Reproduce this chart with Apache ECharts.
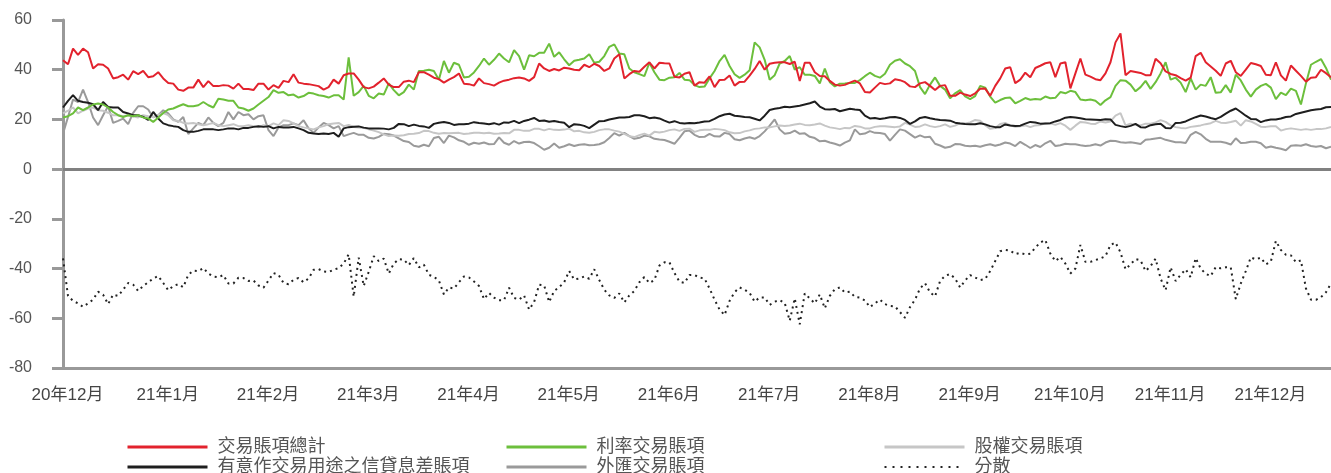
<!DOCTYPE html>
<html><head><meta charset="utf-8">
<script src="https://cdn.jsdelivr.net/npm/echarts@6/dist/echarts.min.js"></script>
<style>html,body{margin:0;padding:0;background:#fff}#c{width:1331px;height:473px}</style>
</head><body><div id="c"></div>
<script>
const monthLabels = ['20年12月','21年1月','21年2月','21年3月','21年4月','21年5月','21年6月','21年7月','21年8月','21年9月','21年10月','21年11月','21年12月'];

const seriesNames = ['交易賬項總計','有意作交易用途之信貸息差賬項','利率交易賬項','外匯交易賬項','股權交易賬項','分散'];

const total = [43.8,42.2,48.5,46,48.5,47,40.5,42.2,42,40.5,36.5,37,38,36,39.4,38.2,39.5,37,37.4,39,36.5,34.7,34.4,32,31.5,32.8,32.8,36,33,35.4,33.4,33.4,33.8,33.6,32.4,34.4,32.2,32.2,31.8,34.4,34.4,32,33.8,32.7,35.5,35,38.2,34.8,34.4,34.2,33.8,33.4,32,33,36,34.4,37.8,
38.5,38.5,36,33,32.5,33.2,34.8,36.5,34,33,33,35.2,35.6,35,39,39,38,36.8,36.2,34.8,36,37,38.5,34.4,34.2,33.6,36.5,34.6,34.2,33.6,34.8,35.6,36,36.6,36.9,36.5,35.5,37,42.5,40.5,39.5,40.3,39.7,40.8,40.5,40,39.8,42,41,42.4,41.5,39.5,40.5,44.5,46.2,36.5,38.2,39.5,39.2,41.2,43,40.5,42.8,42.6,42.5,37.2,36.9,
38.4,39,33.6,35,34.8,37.3,33,35.9,36,37.7,33.6,35.1,35.2,37.6,40.3,43.5,40,42.4,42.8,43,43,42.3,43.2,35.5,42.8,42.8,39,37.5,37.4,35.5,34,33.6,33.9,34.8,35.6,34.5,31,30.8,32.8,34.7,34.2,34.5,36.2,35.8,35,33.3,33,34.5,35,33.5,31.8,33.5,33.8,29.5,29.5,30.8,30,29.4,30.5,32.3,32.4,29.5,33.5,36.5,40.5,
41,34.6,36,38.8,37,40.7,41.6,42.6,43,37,42.5,43,32.5,38.5,44.5,38,37.2,36.2,35.8,38.5,43,51,54.6,37.8,39.5,39.1,38.7,37.8,37.8,44.4,42.6,39.3,38.3,37.8,36.6,35.6,36.8,45.5,46.8,43,41.3,39.6,37.5,42.5,43.6,39,37.5,40,42.7,42.2,41.5,38,37.8,43,37.7,35.6,41.7,39.6,37.5,35.2,36.8,37,40,38.6,37];

const interestRate = [20.8,21.3,22.4,24.8,23.7,24.8,26,26.4,26,24.8,23,21.7,21,21.7,21.3,21.7,20.8,20.4,19,20.8,22.6,24,24.4,25.3,26.1,25.3,25.3,25.7,27,25.7,24.8,28.3,28,27.5,27.5,24.8,24.4,23.5,24.4,26,27.5,29,31.8,30.7,31,29.7,30,28.8,29.4,30.7,30.4,29.7,29.4,28.8,29.7,29.7,28,
45,29.5,31,33.5,29.5,28.5,30.4,30,34.5,31.8,29.7,31,34,32,39.5,39.6,40,39.5,36,43.5,38.8,42.8,42,36.9,37.2,38.9,41.5,44.5,42,44,46.5,44.5,43,47.9,45.5,40,45.8,45.4,46.8,46.8,50.5,45.2,47,44.2,41.8,43.6,44,44.5,46.2,42.8,43.2,45.5,49.2,50.2,46.5,46.2,40.5,39,38.2,37.4,42.8,39,36,35.8,36.8,37,38.7,
36,35.8,33.8,33,33.2,36.5,39.5,43.5,46,41.5,38.2,36.7,38,39.8,51,49,44,36,37.8,42.5,43.5,45.5,40,41,38,38,37.5,34.5,40.5,35,33.3,34.4,34.5,34.7,34.7,35.8,37.4,38.8,37.5,36.8,38.4,42,43.6,44.2,42.5,41.4,39.5,33,30.2,34,36.9,33.5,32,28.5,30.5,31.8,29.3,28.2,29.4,33.5,32.8,29.2,26.8,27.8,28.6,
28.8,26.5,27.5,28.6,27.9,28.2,28,29.2,28.5,28.7,31,30.5,31.5,31,28,27.7,28,27.5,25.8,27.7,29,33.5,35.8,35.6,34,31.3,33,35.5,32.3,35,38.5,43,36,36.8,34.8,31,36.5,32,34,33.5,37,30.7,30.9,33.8,30.8,38,35.7,32,29.2,32,33.5,34.3,32.8,28.2,30.8,29.8,32.4,31.5,26,34.5,42,43.2,44.3,40.7,36];

const creditSpread = [24.8,27.5,29.8,27.5,27,26.7,26.1,23.7,27,25,24.8,24.8,23,22.4,21.7,21.7,21,19.8,23,20.4,18.4,17.7,17.3,17,15.7,15,15,15.4,16,16,16,15.7,16,16.4,16.4,16,16.6,16.6,17,17.3,17,17.3,16.4,17,16.8,16.8,17,16.4,15.7,14.6,14.3,14.1,14.3,14.1,14.6,13,16.4,
16.9,17.1,17.2,16.7,16.4,16.4,16.4,16.3,16,16.6,18.2,18.1,17.3,17.9,17.4,17.2,16.6,18.2,18.7,19,18.6,17.8,18.1,18.1,18.3,18.9,18.6,18.4,18.1,18.5,17.9,18.8,18.7,19.4,18.5,19.4,19.9,20.6,19.4,19.6,19.1,19.4,19,18.7,16.9,18.1,17.9,17.4,16.5,17.9,19.3,19.4,20,20.4,20.8,20.8,21,21.7,21.7,21.3,20.5,20.8,20.4,19.5,18.7,19.3,18.6,
18.4,18.6,18.5,18.8,19.2,19.3,20.2,21.3,22,22.3,21.5,21.3,21,20.9,20.3,19.6,21.5,23.8,24.3,24.6,25.1,24.9,25.2,25.5,26,26.5,27.2,25.2,24.1,24,24.2,23.3,23.8,24.3,24,23.8,21.5,20.4,20.6,20.2,20.5,20.9,21,20.6,19.8,18.2,19.2,20.6,21,20.5,20.1,19.8,19.7,19.5,18.7,18.4,18.2,18.1,18.1,18.5,18,17.3,16.9,16.9,18,
17.6,17.4,17.5,18.3,19,18.8,18.3,18.4,18.5,19.2,19.8,20.7,21,20.8,20.5,20.1,20,19.9,19.8,20.1,20,17.8,17.3,16.9,17.4,18.2,16.9,16.8,17.7,18.1,18.3,16.6,16.4,18.6,18.7,19.2,20.1,20.9,21.6,21.2,20.6,20.1,21,22.3,23.5,24.4,23,21.5,20.2,20.1,18.9,19.6,20,20,20.4,21,21.2,22.2,22.7,23.2,23.7,24,24.2,24.9,25];

const fx = [14.3,21,28,27,32,27,20.8,17.7,21.7,25.3,18.6,19.4,20.3,18.1,22.6,25.3,25.3,24,20.8,21.7,23.7,22.4,20,19,21,14.1,16.4,18.6,17.7,20.8,18.6,17.3,18.6,23,20,23,21.7,22.1,20,21.3,21.7,15.7,13.3,16.8,17.7,17.7,18.4,17.7,19.7,16.4,14.6,16.8,18.6,17.7,16.4,17.3,13.3,
14,14.6,13.8,13.8,12.6,12.3,13,14.2,14,13.5,12.4,11.3,10.9,9.4,9,9.8,9.2,12.5,13,10.5,13.5,12.8,11.6,11,9.8,10.6,10.2,10.7,10,10.1,12.8,10.6,9.8,11.3,10.3,10.9,11,10.5,9.2,7.8,8.6,10.3,8.6,9.2,10,9.3,9.8,10,9.6,9.7,10,10.8,12.5,14.5,13.5,14.6,13.3,12.2,12.6,13.5,13.2,12.2,11.9,11.7,11,10.2,12.6,
15.2,15.5,13.8,12.9,13,14.2,13.2,13.1,14.6,14.1,12,11.6,12.3,12.8,12.2,13.3,15.2,17.5,20,16,14.2,14.5,15.5,14.2,14.4,13,12.5,11.2,11.4,10.7,10.2,9.5,10.7,11.6,16,14,14.3,15.3,14.6,14.5,14.1,11.5,13.8,16,15.5,14.1,12.7,13.6,12.8,13,10.2,9.5,8.6,9,10.1,10,9.4,9.2,9.4,9,9.6,10,9.4,9.9,10.7,
10.3,9.3,11,9.8,8.5,9.7,8.9,10.4,11.4,9.3,9.6,10.2,10,10,9.6,9.3,9.5,10,9.5,10.7,11.4,11.3,10.8,10.6,10.8,10.5,10.1,11.8,12,12.3,12.6,11.8,11.3,10.8,10.8,10.5,13.8,15,14,12.2,11,11,11,10.6,9.9,12.4,10.5,10.6,11,11,10.4,8.6,9.1,8.6,8.2,7.6,9.4,9.6,9.4,10,9.3,9,9.3,8.4,9];

const equity = [22.4,23.5,24.8,22.4,23.5,24.4,24.8,23.7,23.5,22.7,21.7,21.7,21.3,21.7,21.3,20.8,21.7,21.3,21,21.7,22.6,21.7,19.7,19.4,18.6,18.4,18.6,18.1,17.7,18.1,18.6,17.7,17.3,17.7,18.1,17.3,17.3,17.7,17.3,16.8,17.7,17.3,18.4,17.7,19.7,19.4,18.4,17.3,16.8,16.4,16,16.8,17.3,18.1,18.4,18.6,17.3,
17.8,17,16.8,16.6,16,15.5,14.9,14,13.3,13.5,13.4,13.6,14.1,14.2,14.5,15.4,15.3,14.6,14.2,14.5,14.4,14.5,14.6,14.1,14.3,14.6,14.6,14.4,14.6,14.2,14.3,14.5,14.4,15.8,15.8,15.4,15.4,16.2,16.2,15.6,16.2,15.8,15.7,15.9,16.3,15.2,15.4,14.8,14.6,15,15.7,16,16,15.5,15.1,14.2,13.2,12.9,13.7,14.3,13.5,15,14.7,15.1,15.7,16,15.4,
16.2,16.3,15,15.6,15.8,15.8,16.2,16,15.7,14.8,14.4,14.5,15.2,15.6,16.2,16.4,16.8,16.8,17.2,17.6,17.4,17.6,18,18.3,17.8,17.7,18,18.4,17.5,16.8,16.5,16.1,16.6,16.5,17.4,17.1,16.4,16.4,17,17.3,17.3,17.1,16.9,17.2,18.6,17.9,17,17.2,18,17.3,16.9,17.3,18,17,17.5,18.5,18.4,18.8,19.8,19.5,17.7,16.2,16.5,18.2,18.6,
17.6,17,17.3,17.6,16.9,17.6,17.8,18.4,18.4,17.8,18.5,17.5,15.8,17.5,19,18.8,18.3,18.2,19.2,18.8,19.2,21.5,22.5,17.6,18.3,17.8,17.6,18.3,18.3,18.8,19.7,19,17.6,16.9,16.6,16.4,17,17.3,17.6,18.1,18.5,19.4,18.7,18.6,19,19.5,17.5,19.7,19.2,18.2,17.1,17,17.3,17.3,15.5,16.1,16.4,16.1,15.8,16.1,15.8,16.1,16.1,16.4,17];

const dispersion = [-35.9,-51,-53,-54,-55.4,-54,-52.5,-49.3,-50.5,-54.3,-50.5,-51,-48.5,-45.8,-46.5,-49,-47,-45.5,-44,-43,-45.8,-48.7,-47,-46.3,-47.5,-42.5,-40.8,-41,-39.8,-42,-43.2,-43.5,-42.6,-46,-46,-43.7,-43.8,-45,-44.8,-46.8,-47.7,-44.8,-41.8,-42.5,-45.8,-46.3,-44.5,-43.8,-45.5,-44,-40.5,-40.2,-41.2,-41.4,-40.5,-39.8,-38,
-34.3,-51.3,-35.6,-47,-41.3,-35,-37,-36,-42,-38,-36.2,-36.4,-38.6,-35.8,-39.5,-38.4,-42.5,-43.3,-44.8,-50.4,-47.6,-48,-45.5,-43.2,-43.6,-45.2,-47,-52.3,-49.8,-51.7,-52.7,-52.7,-47.7,-51.8,-52.5,-50.8,-56.5,-53.5,-46.5,-46.8,-53.5,-49,-47.5,-45.5,-41,-44.4,-44,-43.2,-44.1,-40.3,-44.6,-48.5,-50.8,-51.8,-50,-53.6,-50.8,-49,-45.5,-43.4,-45.8,-44.6,-38.8,-37.5,-37.5,-41.8,-45.3,-45.8,-42.6,
-42.6,-43.6,-44,-48,-52.5,-56.5,-58.7,-53,-49.5,-47.6,-48.5,-49.8,-53.3,-51.6,-51.6,-54.6,-53.3,-52.7,-53.8,-61,-52,-62.4,-50,-52,-54,-50.4,-56,-51,-48.3,-47.6,-49.6,-49.3,-51.4,-51.7,-52.8,-55.5,-54,-52.5,-54.3,-55,-55.2,-57.5,-59.8,-55.5,-52.5,-48,-45.9,-49.6,-51.2,-45,-42.9,-42.2,-44,-47.6,-44.8,-42.6,-43.6,-44.6,-44.2,-41,-37,-33,-32.5,-32.8,
-34.2,-33.7,-34.3,-34,-31.6,-29.5,-28.5,-34,-37,-35.3,-38,-42,-40,-30.5,-37.3,-37.3,-36.6,-35.9,-35,-30.5,-29.5,-33.5,-40.3,-38.3,-36.2,-36.7,-41,-39,-36,-44,-48.7,-39.5,-45,-42.5,-40.3,-43.5,-35.8,-40,-42.1,-43,-39.4,-39.9,-39.5,-39.5,-52.3,-46,-41,-35.5,-36.3,-35.6,-38.3,-37.2,-28.9,-32.5,-34.4,-34.7,-37.4,-36.7,-48,-52.5,-52.6,-51.5,-49.5,-46];

const LABEL_EVERY = 20;
const categories = total.map((_, i) => String(i));
const FONT = "'Liberation Sans', Arial, 'Noto Sans CJK TC', sans-serif";

function lineSeries(name, data, color, extra) {
  return Object.assign({
    name: name, type: 'line', data: data, symbol: 'none', showSymbol: false,
    lineStyle: { color: color, width: 2 }, itemStyle: { color: color },
    emphasis: { disabled: true }, silent: true
  }, extra || {});
}

const legendBase = {
  orient: 'vertical', top: 437, height: 80, padding: 0, itemWidth: 80, itemHeight: 20, itemGap: 0,
  selectedMode: false,
  textStyle: { fontSize: 18, color: '#555', fontFamily: FONT, lineHeight: 20, padding: [0, 0, 0, 5] },
  itemStyle: { opacity: 0, borderWidth: 0 },
  lineStyle: { width: 3 }
};

const chart = echarts.init(document.getElementById('c'));
chart.setOption({
  animation: false,
  backgroundColor: '#fff',
  grid: { left: 63, right: 0, top: 20, bottom: 105, containLabel: false },
  xAxis: {
    type: 'category', data: categories, boundaryGap: false,
    axisLine: { onZero: false, lineStyle: { color: '#999', width: 3 } },
    axisTick: { show: false },
    splitLine: { show: false },
    axisLabel: {
      interval: LABEL_EVERY - 1,
      formatter: (v, i) => monthLabels[i / LABEL_EVERY] || '',
      color: '#444', fontSize: 17, margin: 19, fontFamily: FONT, padding: [0, 0, 0, 9]
    }
  },
  yAxis: {
    type: 'value', min: -80, max: 60, interval: 20,
    axisLine: { show: true, lineStyle: { color: '#999', width: 3 } },
    axisTick: { show: true, length: 11, lineStyle: { color: '#999', width: 3 } },
    splitLine: { show: false },
    axisLabel: { color: '#555', fontSize: 16, margin: 31, fontFamily: FONT }
  },
  legend: [
    Object.assign({}, legendBase, { left: 126, data: [seriesNames[0], seriesNames[1]] }),
    Object.assign({}, legendBase, { left: 505, data: [seriesNames[2], seriesNames[3]] }),
    Object.assign({}, legendBase, { left: 883, data: [seriesNames[4], { name: seriesNames[5], lineStyle: { type: [2, 6], width: 2 } }] })
  ],
  series: [
    lineSeries(seriesNames[3], fx, '#9a9a9a'),
    lineSeries(seriesNames[4], equity, '#c6c6c6'),
    lineSeries(seriesNames[1], creditSpread, '#1e1e1e'),
    lineSeries(seriesNames[2], interestRate, '#6cbf3c'),
    lineSeries(seriesNames[0], total, '#e2222d', {
      markLine: {
        silent: true, symbol: 'none', label: { show: false },
        lineStyle: { color: '#808080', width: 3, type: 'solid' },
        data: [{ yAxis: 0 }]
      }
    }),
    lineSeries(seriesNames[5], dispersion, '#222', { lineStyle: { color: '#222', width: 2, type: [2, 4] } })
  ]
});
</script>
</body></html>
